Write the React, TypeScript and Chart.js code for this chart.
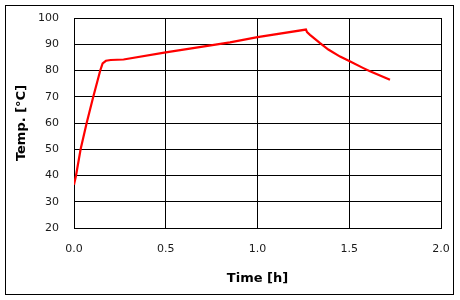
import React, { useEffect, useRef } from "react";
import { Chart, registerables } from "chart.js";

Chart.register(...registerables);

const timeHours = [0, 0.011, 0.036, 0.069, 0.105, 0.143, 0.156, 0.174, 0.2, 0.27, 0.5, 0.85, 1.0, 1.264, 1.27, 1.286, 1.341, 1.386, 1.45, 1.5, 1.577, 1.613, 1.722];
const tempC = [36.5, 40, 50, 60, 70, 80, 82.7, 83.7, 84, 84.2, 86.9, 90.7, 92.7, 95.6, 94.6, 93.6, 90.4, 88.0, 85.3, 83.6, 80.9, 79.7, 76.5];
const xTitle = "Time [h]";
const yTitle = "Temp. [°C]";

export default function App() {
  const ref = useRef<HTMLCanvasElement | null>(null);
  useEffect(() => {
    if (!ref.current) return;
    const data = timeHours.map((t, i) => ({ x: t, y: tempC[i] }));
    const tickFont = { family: "'DejaVu Sans', sans-serif", size: 11 };
    const titleFont = { family: "'DejaVu Sans', sans-serif", size: 13, weight: "bold" as const };
    const chart = new Chart(ref.current, {
      type: "line",
      data: {
        datasets: [
          {
            data,
            borderColor: "#ff0000",
            borderWidth: 2.2,
            pointRadius: 0,
            tension: 0,
            fill: false,
          },
        ],
      },
      options: {
        animation: false,
        responsive: false,
        layout: { padding: { left: 0, right: 19, top: 18, bottom: 0 } },
        plugins: { legend: { display: false }, tooltip: { enabled: false } },
        scales: {
          x: {
            type: "linear",
            min: 0,
            max: 2,
            afterFit: (s: any) => { s.height = 72; s.paddingLeft = 0; s.paddingRight = 0; },
            ticks: { stepSize: 0.5, callback: (v: any) => Number(v).toFixed(1), font: tickFont, color: "#1a1a1a", padding: 15, maxRotation: 0 },
            grid: { color: "#000", lineWidth: 1, drawTicks: false },
            border: { color: "#000", width: 1 },
            title: { display: true, text: xTitle, font: titleFont, color: "#000", padding: { top: 0, bottom: 14 } },
          },
          y: {
            min: 20,
            max: 100,
            afterFit: (s: any) => { s.width = 74; s.paddingTop = 0; s.paddingBottom = 0; },
            ticks: { stepSize: 10, font: tickFont, color: "#1a1a1a", padding: 15 },
            grid: { color: "#000", lineWidth: 1, drawTicks: false },
            border: { color: "#000", width: 1 },
            title: { display: true, text: yTitle, font: titleFont, color: "#000", padding: { top: 14, bottom: 0 } },
          },
        },
      },
    });
    return () => chart.destroy();
  }, []);
  return (
    <div style={{ position: "absolute", left: 0, top: 0, width: 460, height: 300, background: "#fff" }}>
      <div style={{ position: "absolute", left: 5, top: 5, width: 449, height: 290, border: "1px solid #000", boxSizing: "border-box" }} />
      <canvas ref={ref} width={460} height={300} style={{ position: "absolute", left: 0, top: 0 }} />
    </div>
  );
}
